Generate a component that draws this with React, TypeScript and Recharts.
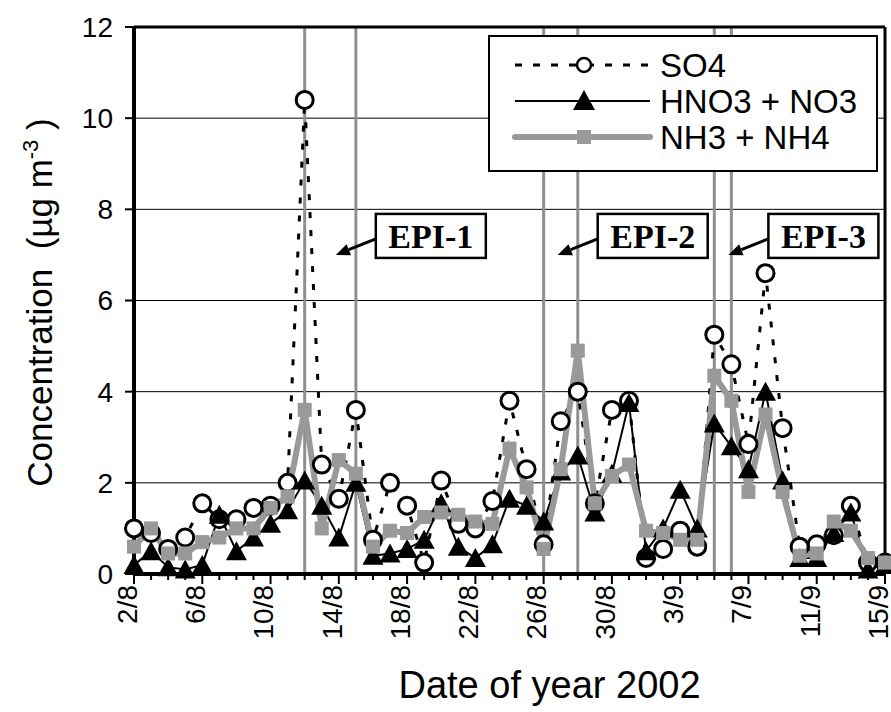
import React from "react";
import {
  LineChart,
  Line,
  XAxis,
  YAxis,
  CartesianGrid,
  ReferenceLine,
  ReferenceDot,
  Legend,
  Label,
} from "recharts";

const dates = [
  "2/8", "3/8", "4/8", "5/8", "6/8", "7/8", "8/8", "9/8", "10/8", "11/8",
  "12/8", "13/8", "14/8", "15/8", "16/8", "17/8", "18/8", "19/8", "20/8", "21/8",
  "22/8", "23/8", "24/8", "25/8", "26/8", "27/8", "28/8", "29/8", "30/8", "31/8",
  "1/9", "2/9", "3/9", "4/9", "5/9", "6/9", "7/9", "8/9", "9/9", "10/9",
  "11/9", "12/9", "13/9", "14/9", "15/9",
];

const so4 = [
  1.0, 0.9, 0.55, 0.8, 1.55, 1.2, 1.2, 1.45, 1.5, 2.0,
  10.4, 2.4, 1.65, 3.6, 0.75, 2.0, 1.5, 0.25, 2.05, 1.1,
  1.0, 1.6, 3.8, 2.3, 0.65, 3.35, 4.0, 1.55, 3.6, 3.8,
  0.35, 0.55, 0.95, 0.6, 5.25, 4.6, 2.85, 6.6, 3.2, 0.6,
  0.65, 0.85, 1.5, 0.25, 0.25,
];

const hno3 = [
  0.2, 0.5, 0.15, 0.1, 0.2, 1.3, 0.5, 0.8, 1.1, 1.4,
  2.05, 1.5, 0.8, 2.0, 0.4, 0.45, 0.55, 0.75, 1.55, 0.6,
  0.35, 0.65, 1.65, 1.5, 1.15, 2.25, 2.6, 1.35, 2.2, 3.75,
  0.5, 1.0, 1.85, 1.0, 3.3, 2.8, 2.3, 4.0, 2.05, 0.35,
  0.35, 0.9, 1.35, 0.1, 0.2,
];

const nh3 = [
  0.6, 1.0, 0.45, 0.45, 0.7, 0.8, 1.0, 1.0, 1.45, 1.7,
  3.6, 1.0, 2.5, 2.2, 0.6, 0.95, 0.9, 1.25, 1.35, 1.3,
  1.15, 1.1, 2.75, 1.9, 0.55, 2.3, 4.9, 1.55, 2.15, 2.4,
  0.95, 0.9, 0.75, 0.75, 4.35, 3.8, 1.8, 3.5, 1.8, 0.4,
  0.45, 1.15, 0.95, 0.35, 0.25,
];

const yTicks = [0, 2, 4, 6, 8, 10, 12];
const episodeDays = ["12/8", "15/8", "26/8", "28/8", "5/9", "6/9"];
const episodeLabels = ["EPI-1", "EPI-2", "EPI-3"];
const episodeAnchors = ["14/8", "27/8", "6/9"];
const seriesNames = ["SO4", "HNO3 + NO3", "NH3 + NH4"];

const data = dates.map((date, i) => ({
  date,
  so4: so4[i],
  hno3: hno3[i],
  nh3: nh3[i],
}));

const SANS = '"Liberation Sans", Arial, sans-serif';
const SERIF = '"Liberation Serif", "Times New Roman", serif';
const GREY = "#999999";

const CircleDot = (props: any) => {
  const { cx, cy, index } = props;
  if (cx == null || cy == null) return <g key={index} />;
  return <circle key={index} cx={cx} cy={cy} r={8.5} fill="#fff" stroke="#000" strokeWidth={3} />;
};

const TriangleDot = (props: any) => {
  const { cx, cy, index } = props;
  if (cx == null || cy == null) return <g key={index} />;
  return (
    <path
      key={index}
      d={`M${cx},${cy - 10} L${cx + 10.5},${cy + 9} L${cx - 10.5},${cy + 9} Z`}
      fill="#000"
    />
  );
};

const SquareDot = (props: any) => {
  const { cx, cy, index } = props;
  if (cx == null || cy == null) return <g key={index} />;
  return <rect key={index} x={cx - 7} y={cy - 7} width={14} height={14} fill={GREY} />;
};

// every day gets a small tick, every 4th day a long one with a label
const DateTick = (props: any) => {
  const { x, y, payload } = props;
  const i = dates.indexOf(payload.value);
  const major = i % 4 === 0;
  return (
    <g>
      <line x1={x} x2={x} y1={y} y2={y + (major ? 10 : 6)} stroke="#000" strokeWidth={2} />
      {major && (
        <text
          transform={`translate(${x},${y + 11}) rotate(-90)`}
          textAnchor="end"
          dy="0.1em"
          fontSize={28}
          fontFamily={SANS}
          fill="#000"
        >
          {payload.value}
        </text>
      )}
    </g>
  );
};

const YTitle = (props: any) => {
  const { viewBox } = props;
  const cx = viewBox.x + 40;
  const cy = viewBox.y + viewBox.height / 2 + 2;
  return (
    <text
      transform={`translate(${cx},${cy}) rotate(-90)`}
      textAnchor="middle"
      dy="0.35em"
      fontSize={35}
      fontFamily={SANS}
      fill="#000"
    >
      {"Concentration\u00a0\u00a0(µg m"}
      <tspan dy={-14} fontSize={22}>-3</tspan>
      <tspan dy={14}>{"\u00a0)"}</tspan>
    </text>
  );
};

const XTitle = (props: any) => {
  const { viewBox } = props;
  return (
    <text
      x={viewBox.x + viewBox.width / 2 + 40}
      y={viewBox.y + 124}
      textAnchor="middle"
      fontSize={38}
      fontFamily={SANS}
      fill="#000"
    >
      Date of year 2002
    </text>
  );
};

const makeEpiShape = (name: string) => (props: any) => {
  const { cx, cy } = props;
  const tipX = cx - 3;
  const tipY = cy;
  const bx = tipX + 40;
  const by = tipY - 41;
  const w = 110;
  const h = 44;
  const tailY = tipY - 16;
  const dx = tipX - bx;
  const dy = tipY - tailY;
  const len = Math.sqrt(dx * dx + dy * dy);
  const ux = dx / len;
  const uy = dy / len;
  const hl = 14;
  const hw = 6;
  const baseX = tipX - ux * hl;
  const baseY = tipY - uy * hl;
  return (
    <g>
      <line x1={bx} y1={tailY} x2={baseX} y2={baseY} stroke="#000" strokeWidth={3} />
      <path
        d={`M${tipX},${tipY} L${baseX - uy * hw},${baseY + ux * hw} L${baseX + uy * hw},${baseY - ux * hw} Z`}
        fill="#000"
      />
      <rect x={bx} y={by} width={w} height={h} fill="#fff" stroke="#000" strokeWidth={2.5} />
      <text
        x={bx + w / 2}
        y={by + h / 2}
        dy="0.36em"
        textAnchor="middle"
        fontSize={34}
        fontWeight="bold"
        fontFamily={SERIF}
        fill="#000"
      >
        {name}
      </text>
    </g>
  );
};

const LegendBox = () => {
  const rows = [28, 64, 100];
  return (
    <svg width={388} height={136} style={{ display: "block" }}>
      {/* SO4 */}
      <line x1={25} x2={160} y1={rows[0]} y2={rows[0]} stroke="#000" strokeWidth={3} strokeDasharray="7 11" />
      <circle cx={94} cy={rows[0]} r={7} fill="#fff" stroke="#000" strokeWidth={2.5} />
      {/* HNO3 */}
      <line x1={25} x2={160} y1={rows[1]} y2={rows[1]} stroke="#000" strokeWidth={2} />
      <path d={`M94,${rows[1] - 11} L105,${rows[1] + 9} L83,${rows[1] + 9} Z`} fill="#000" />
      {/* NH3 */}
      <line x1={25} x2={160} y1={rows[2]} y2={rows[2]} stroke={GREY} strokeWidth={6} strokeLinecap="round" />
      <rect x={87} y={rows[2] - 7} width={14} height={14} fill={GREY} />
      {seriesNames.map((n, i) => (
        <text key={n} x={170} y={rows[i]} dy="0.36em" fontSize={33} fontFamily={SANS} fill="#000">
          {n}
        </text>
      ))}
    </svg>
  );
};

export default function App() {
  return (
    <div style={{ position: "absolute", left: 0, top: 0, width: 891, height: 712, background: "#fff" }}>
      <LineChart width={891} height={712} data={data} margin={{ top: 27, right: 6, bottom: 0, left: 0 }}>
        <CartesianGrid vertical={false} stroke="#000" strokeWidth={1} />
        <CartesianGrid horizontal={false} verticalValues={episodeDays} stroke="#8f8f8f" strokeWidth={3} />
        <XAxis
          dataKey="date"
          height={138}
          interval={0}
          tickSize={0}
          tickMargin={0}
          tickLine={false}
          tick={<DateTick />}
          axisLine={{ stroke: "#000", strokeWidth: 4 }}
        >
          <Label content={<XTitle />} />
        </XAxis>
        <YAxis
          width={134}
          domain={[0, 12]}
          ticks={yTicks}
          interval={0}
          tickSize={9}
          tickMargin={12}
          tick={{ fontSize: 28, fontFamily: SANS, fill: "#000" }}
          tickLine={{ stroke: "#000", strokeWidth: 2 }}
          axisLine={{ stroke: "#000", strokeWidth: 4 }}
        >
          <Label content={<YTitle />} />
        </YAxis>
        <ReferenceLine y={12} stroke="#000" strokeWidth={3} />
        <ReferenceLine x="15/9" stroke="#000" strokeWidth={3} />
        <Line
          dataKey="so4"
          name={seriesNames[0]}
          stroke="#000"
          strokeWidth={3}
          strokeDasharray="6 12"
          dot={CircleDot}
          activeDot={false}
          isAnimationActive={false}
        />
        <Line
          dataKey="hno3"
          name={seriesNames[1]}
          stroke="#000"
          strokeWidth={2}
          dot={TriangleDot}
          activeDot={false}
          isAnimationActive={false}
        />
        <Line
          dataKey="nh3"
          name={seriesNames[2]}
          stroke={GREY}
          strokeWidth={6}
          dot={SquareDot}
          activeDot={false}
          isAnimationActive={false}
        />
        {episodeLabels.map((name, i) => (
          <ReferenceDot
            key={name}
            x={episodeAnchors[i]}
            y={7}
            r={0}
            shape={makeEpiShape(name)}
          />
        ))}
        <Legend
          layout="vertical"
          align="center"
          verticalAlign="middle"
          content={<LegendBox />}
          wrapperStyle={{
            left: 488,
            top: 35,
            width: 390,
            height: 137,
            background: "#fff",
            border: "2px solid #000",
            boxSizing: "border-box",
          }}
        />
      </LineChart>
    </div>
  );
}
